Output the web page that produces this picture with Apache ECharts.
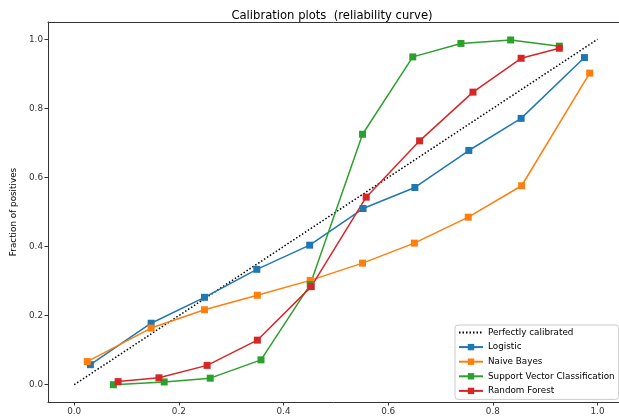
<!DOCTYPE html>
<html>
<head>
<meta charset="utf-8">
<script src="https://cdn.jsdelivr.net/npm/echarts@6/dist/echarts.min.js"></script>
<style>html,body{margin:0;padding:0;background:#fff}#c{width:619px;height:418px}</style>
</head>
<body>
<div id="c"></div>
<script>
const titleText = 'Calibration plots  (reliability curve)';
const yAxisName = 'Fraction of positives';
const tickValues = [0.0, 0.2, 0.4, 0.6, 0.8, 1.0];

const perfectX = [0, 1];
const perfectY = [0, 1];

const logisticX = [0.031, 0.147, 0.249, 0.349, 0.450, 0.552, 0.651, 0.754, 0.854, 0.975];
const logisticY = [0.058, 0.178, 0.253, 0.334, 0.404, 0.510, 0.571, 0.678, 0.771, 0.947];

const nbX = [0.025, 0.147, 0.249, 0.350, 0.451, 0.551, 0.650, 0.753, 0.855, 0.985];
const nbY = [0.067, 0.164, 0.217, 0.259, 0.302, 0.352, 0.410, 0.485, 0.576, 0.902];

const svcX = [0.075, 0.172, 0.260, 0.357, 0.451, 0.551, 0.647, 0.739, 0.834, 0.927];
const svcY = [0.000, 0.008, 0.019, 0.072, 0.290, 0.725, 0.949, 0.988, 0.998, 0.980];

const rfX = [0.084, 0.162, 0.254, 0.350, 0.453, 0.558, 0.660, 0.762, 0.854, 0.927];
const rfY = [0.009, 0.020, 0.056, 0.129, 0.284, 0.543, 0.706, 0.847, 0.945, 0.974];

const names = ['Perfectly calibrated', 'Logistic', 'Naive Bayes', 'Support Vector Classification', 'Random Forest'];
const colors = ['#000000', '#1f77b4', '#ff7f0e', '#2ca02c', '#d62728'];

const zip = (xs, ys) => xs.map((x, i) => [x, ys[i]]);
const font = 'DejaVu Sans';
const spine = { show: true, onZero: false, lineStyle: { color: '#333', width: 1 } };

function curve(name, color, xs, ys) {
  return {
    name, type: 'line', data: zip(xs, ys), color,
    symbol: 'rect', symbolSize: 7,
    lineStyle: { width: 1.5, color },
    itemStyle: { color },
    z: 3
  };
}

const tickLabel = { fontFamily: font, fontSize: 8.8, color: '#333', margin: 5, customValues: tickValues, formatter: v => v.toFixed(1) };
const tick = { show: true, inside: false, length: 3.5, lineStyle: { color: '#333' }, customValues: tickValues };

const chart = echarts.init(document.getElementById('c'), null, { renderer: 'canvas' });
chart.setOption({
  animation: false,
  backgroundColor: '#fff',
  textStyle: { fontFamily: font },
  title: {
    text: titleText, left: 327, top: 5, textAlign: 'center',
    textStyle: { fontFamily: font, fontSize: 11.6, fontWeight: 'normal', color: '#000' }
  },
  grid: { left: 48, top: 22, right: 0, height: 380, show: false, containLabel: false },
  xAxis: [
    {
      type: 'value', min: -0.05, max: 1.041, position: 'bottom',
      axisLine: spine, splitLine: { show: false },
      axisTick: tick, axisLabel: tickLabel
    },
    {
      type: 'value', min: -0.05, max: 1.041, position: 'top',
      axisLine: spine, splitLine: { show: false },
      axisTick: { show: false }, axisLabel: { show: false }
    }
  ],
  yAxis: {
    type: 'value', min: -0.05, max: 1.05,
    name: yAxisName, nameLocation: 'middle', nameGap: 29, nameRotate: 90,
    nameTextStyle: { fontFamily: font, fontSize: 8.8, color: '#000' },
    axisLine: spine, splitLine: { show: false },
    axisTick: tick, axisLabel: tickLabel
  },
  legend: {
    data: [
      { name: names[0], itemStyle: { opacity: 0 } },
      names[1], names[2], names[3], names[4]
    ],
    orient: 'vertical', left: 455, top: 325,
    backgroundColor: 'rgba(255,255,255,0.85)', borderColor: '#ccc', borderWidth: 1, borderRadius: 3,
    padding: [3, 4, 4, 3], itemGap: 5.6, itemWidth: 24, itemHeight: 8,
    textStyle: { fontFamily: font, fontSize: 8.8, color: '#000' }
  },
  series: [
    {
      name: names[0], type: 'line', data: zip(perfectX, perfectY), color: '#000',
      symbol: 'none', lineStyle: { width: 1.5, type: [1.5, 2], color: '#000' }, z: 2
    },
    curve(names[1], colors[1], logisticX, logisticY),
    curve(names[2], colors[2], nbX, nbY),
    curve(names[3], colors[3], svcX, svcY),
    curve(names[4], colors[4], rfX, rfY)
  ]
});
</script>
</body>
</html>
